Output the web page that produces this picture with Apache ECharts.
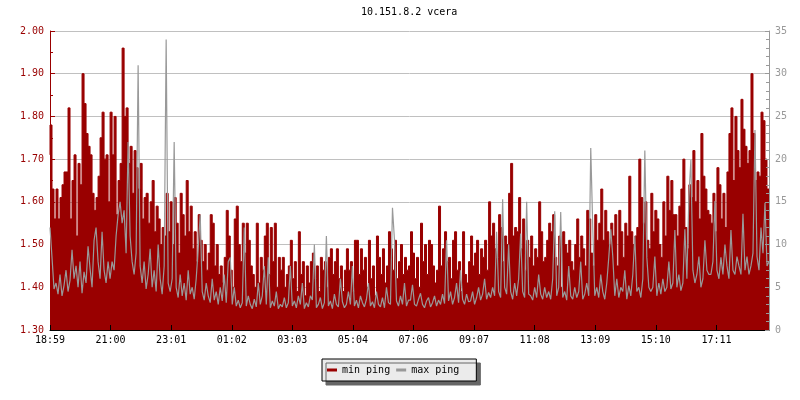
<!DOCTYPE html>
<html>
<head>
<meta charset="utf-8">
<script src="https://cdn.jsdelivr.net/npm/echarts@6/dist/echarts.min.js"></script>
<style>html,body{margin:0;padding:0;background:#fff}#c{width:800px;height:400px}</style>
</head>
<body>
<div id="c"></div>
<script>
var timeLabels = ['18:59','21:00','23:01','01:02','03:03','05:04','07:06','09:07','11:08','13:09','15:10','17:11'];
var seriesNames = ['min ping', 'max ping'];
var minPing = [
1.71,1.78,1.63,1.56,1.63,1.56,1.61,1.64,1.67,1.67,1.82,1.56,1.65,1.71,1.52,1.69,1.64,1.90,1.83,1.76,1.73,1.71,1.62,1.58,1.61,1.66,1.75,1.81,1.70,1.71,
1.60,1.81,1.71,1.80,1.57,1.65,1.69,1.96,1.80,1.82,1.69,1.73,1.62,1.72,1.68,1.63,1.69,1.56,1.61,1.62,1.55,1.60,1.65,1.53,1.59,1.56,1.50,1.54,1.52,1.62,
1.53,1.60,1.50,1.61,1.55,1.48,1.62,1.57,1.52,1.65,1.53,1.59,1.49,1.53,1.46,1.57,1.51,1.46,1.50,1.44,1.48,1.57,1.55,1.45,1.50,1.43,1.45,1.41,1.47,1.58,
1.52,1.44,1.40,1.56,1.59,1.50,1.46,1.55,1.48,1.55,1.51,1.45,1.43,1.40,1.55,1.41,1.47,1.44,1.52,1.55,1.43,1.54,1.46,1.55,1.40,1.47,1.44,1.47,1.40,1.43,
1.45,1.51,1.42,1.46,1.39,1.53,1.43,1.46,1.38,1.45,1.41,1.46,1.48,1.42,1.45,1.39,1.47,1.44,1.46,1.40,1.47,1.49,1.43,1.46,1.49,1.42,1.45,1.39,1.44,1.49,
1.44,1.46,1.39,1.51,1.51,1.43,1.49,1.44,1.47,1.40,1.51,1.42,1.45,1.38,1.52,1.47,1.43,1.49,1.41,1.45,1.53,1.49,1.44,1.51,1.42,1.46,1.50,1.43,1.47,1.44,
1.45,1.53,1.48,1.42,1.47,1.40,1.55,1.46,1.50,1.43,1.51,1.50,1.45,1.41,1.44,1.59,1.45,1.49,1.53,1.46,1.47,1.42,1.51,1.53,1.44,1.46,1.39,1.53,1.43,1.41,
1.46,1.52,1.45,1.48,1.51,1.43,1.49,1.47,1.51,1.44,1.60,1.52,1.55,1.49,1.47,1.57,1.54,1.46,1.52,1.50,1.62,1.69,1.52,1.54,1.53,1.61,1.49,1.56,1.44,1.51,
1.47,1.52,1.45,1.49,1.47,1.60,1.53,1.46,1.47,1.51,1.55,1.53,1.57,1.47,1.45,1.52,1.40,1.53,1.50,1.48,1.51,1.46,1.44,1.50,1.56,1.47,1.52,1.49,1.45,1.58,
1.56,1.48,1.45,1.57,1.51,1.55,1.63,1.51,1.58,1.53,1.50,1.55,1.52,1.57,1.45,1.58,1.53,1.47,1.55,1.52,1.66,1.53,1.50,1.52,1.54,1.70,1.61,1.55,1.60,1.51,
1.49,1.62,1.53,1.58,1.56,1.50,1.47,1.60,1.52,1.66,1.58,1.65,1.57,1.57,1.52,1.59,1.63,1.70,1.54,1.49,1.64,1.61,1.72,1.60,1.65,1.56,1.76,1.66,1.63,1.58,
1.57,1.55,1.62,1.53,1.68,1.64,1.56,1.62,1.54,1.67,1.76,1.82,1.65,1.80,1.72,1.68,1.84,1.77,1.73,1.69,1.72,1.90,1.76,1.65,1.67,1.66,1.81,1.79,1.70,1.63
];
var maxPing = [
12.0,8.5,4.8,5.5,4.2,6.5,4.0,5.2,7.0,4.5,5.8,9.4,6.0,7.5,5.0,8.0,4.3,6.8,5.5,9.8,7.2,5.0,10.5,12.0,8.0,6.0,11.5,7.0,5.5,8.0,
6.0,8.0,7.0,11.0,13.5,15.0,12.5,14.0,9.0,22.0,11.0,8.0,6.5,9.0,31.0,7.5,5.5,8.0,4.8,6.5,9.5,5.0,7.0,4.5,10.0,6.0,4.2,7.5,34.0,5.5,
4.5,6.0,22.0,5.0,3.8,6.5,4.0,5.5,3.5,7.0,4.2,5.0,3.6,6.0,9.5,13.5,4.5,3.5,5.5,4.0,3.2,6.0,3.5,4.5,3.0,5.0,3.4,6.5,3.2,8.0,
8.5,3.0,5.0,2.8,3.5,2.6,3.2,12.0,2.8,4.0,3.0,2.5,3.6,2.7,5.5,3.0,4.0,7.5,3.0,8.5,2.6,3.4,2.8,4.5,2.5,3.0,2.7,3.8,2.6,3.2,
7.5,2.8,3.4,2.6,4.0,3.0,5.5,2.5,3.2,2.7,4.0,3.5,10.0,2.6,3.0,3.8,2.5,3.2,11.0,2.8,3.4,2.5,4.2,3.0,2.7,6.0,3.3,2.6,3.0,4.5,
3.0,7.5,2.8,3.5,2.6,4.0,3.2,2.7,3.6,5.5,2.8,3.3,2.6,4.5,3.0,2.7,3.8,2.6,5.0,3.2,3.0,14.3,10.5,3.4,2.8,4.0,3.0,5.5,2.8,3.5,
3.5,5.3,3.0,2.8,3.6,4.3,3.0,2.6,3.4,3.8,2.7,3.2,4.0,2.8,3.5,3.0,4.2,3.1,10.5,3.4,4.5,3.0,3.8,5.5,3.2,7.0,3.6,3.0,4.2,3.3,
3.4,4.5,3.0,3.8,5.0,3.5,4.2,6.0,3.6,4.4,3.8,5.0,4.0,11.5,4.5,3.8,15.3,5.0,4.2,10.0,4.5,3.6,5.5,4.0,6.0,11.3,4.5,3.8,15.0,4.2,
4.0,3.5,5.0,3.8,6.5,4.2,3.6,5.0,3.8,4.5,3.6,6.0,13.9,4.0,5.0,13.8,3.8,4.5,3.5,7.5,4.0,3.6,5.0,3.8,4.5,8.0,3.6,4.2,5.5,4.0,
21.3,12.0,4.0,5.0,3.8,6.5,4.5,3.6,5.5,8.5,11.8,8.6,4.0,6.0,3.8,5.0,4.5,7.0,3.6,5.2,4.0,6.5,11.0,4.5,5.0,3.8,6.0,21.0,8.5,5.0,
4.5,5.0,8.6,4.0,5.5,4.2,6.0,4.5,5.0,8.0,4.8,5.5,11.7,5.0,6.5,4.6,5.5,11.8,6.0,15.6,19.9,7.0,5.5,6.5,8.6,5.0,6.0,10.5,7.0,6.5,
6.5,8.0,15.1,7.0,6.0,8.5,6.5,10.0,7.5,6.0,11.7,7.0,6.5,8.6,7.5,6.5,13.6,7.0,8.6,6.5,7.5,9.0,23.4,8.6,7.0,12.0,9.0,14.9,7.5,8.0
];

var RED = '#990000', GRAY = '#999999', FONT = 'DejaVu Sans Mono';
var nPts = minPing.length;
var labelStep = 30.25;

var chart = echarts.init(document.getElementById('c'), null, {renderer: 'canvas'});
chart.setOption({
  animation: false,
  backgroundColor: '#ffffff',
  title: {
    text: '10.151.8.2 vcera', left: 361, top: 7, padding: 0,
    textStyle: {fontFamily: FONT, fontSize: 10, fontWeight: 'normal', color: '#000'}
  },
  grid: {left: 50, right: 31, top: 31, bottom: 70},
  legend: {
    left: 322, top: 359, orient: 'horizontal',
    padding: [6, 17, 6, 5],
    backgroundColor: '#ebebeb', borderColor: '#000', borderWidth: 1,
    shadowColor: '#666666', shadowBlur: 0, shadowOffsetX: 4, shadowOffsetY: 4,
    icon: 'rect', itemWidth: 10, itemHeight: 3, itemGap: 6,
    textStyle: {fontFamily: FONT, fontSize: 10, color: '#000'},
    data: [
      {name: seriesNames[0], itemStyle: {color: RED, borderWidth: 0}},
      {name: seriesNames[1], itemStyle: {color: GRAY, borderWidth: 0}}
    ]
  },
  xAxis: {
    type: 'value', min: 0, max: nPts - 1, interval: labelStep, z: 10,
    axisLine: {lineStyle: {color: '#000', width: 1}},
    axisTick: {inside: true, length: 5, lineStyle: {color: '#000'}},
    axisLabel: {
      fontFamily: FONT, fontSize: 10, color: '#000', margin: 5, showMaxLabel: false,
      formatter: function (v) {
        var k = Math.round(v / labelStep);
        if (Math.abs(v / labelStep - k) > 0.01) return '';
        return timeLabels[k] || '';
      }
    },
    splitLine: {show: false}
  },
  yAxis: [{
    type: 'value', min: 1.3, max: 2.0, interval: 0.1, position: 'left',
    axisLine: {show: true, lineStyle: {color: RED}},
    axisTick: {show: true, inside: true, length: 5, lineStyle: {color: RED}},
    minorTick: {show: true, splitNumber: 2, length: 3, lineStyle: {color: RED}},
    axisLabel: {fontFamily: FONT, fontSize: 10, color: RED, margin: 6,
      formatter: function (v) { return v.toFixed(2); }},
    splitLine: {show: true, lineStyle: {color: '#c0c0c0', width: 1}}
  }, {
    type: 'value', min: 0, max: 35, interval: 5, position: 'right', z: 10,
    axisLine: {show: true, lineStyle: {color: GRAY}},
    axisTick: {show: true, inside: true, length: 4, lineStyle: {color: GRAY}},
    minorTick: {show: true, splitNumber: 5, length: 3, lineStyle: {color: GRAY}},
    axisLabel: {fontFamily: FONT, fontSize: 10, color: GRAY, margin: 6},
    splitLine: {show: false}
  }],
  series: [{
    name: seriesNames[0], type: 'line', yAxisIndex: 0, step: 'start',
    symbol: 'none', z: 2, color: RED,
    lineStyle: {width: 1, color: RED},
    areaStyle: {color: RED, opacity: 1, origin: 'start'},
    data: minPing.map(function (v, i) { return [i, v]; })
  }, {
    name: seriesNames[1], type: 'line', yAxisIndex: 1,
    symbol: 'none', z: 3, color: GRAY,
    lineStyle: {width: 1.2, color: GRAY},
    data: maxPing.map(function (v, i) { return [i, v]; })
  }]
});
</script>
</body>
</html>
